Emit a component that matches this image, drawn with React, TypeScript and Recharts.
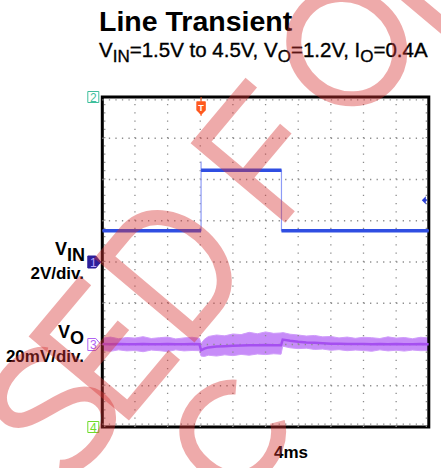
import React from 'react';
import {
  ComposedChart,
  Line,
  Area,
  XAxis,
  YAxis,
  ReferenceLine,
  ReferenceArea,
  ReferenceDot,
} from 'recharts';

// scope screen: 10 x 4ms horizontally, 8 divisions vertically
const timeGrid = [4, 8, 12, 16, 20, 24, 28, 32, 36];
const divGrid = [-3, -2, -1, 0, 1, 2, 3];

// CH1: VIN in volts, 2V/div, ground on the centre line
const vinTime = [0, 12.1, 12.1, 12.1, 21.95, 21.95, 40];
const vinVolts = [1.52, 1.52, 4.87, 4.45, 4.45, 1.52, 1.52];
const vinScale = 2;
const vinOffset = 0;

// CH3: VO ripple in mV, 20mV/div, marker 2 div below centre
const voTime = [
  0, 1, 2, 3, 4, 5, 6, 7, 8, 9, 10, 11, 11.9,
  12.1, 12.5, 13, 14, 15, 16, 17, 18, 19, 20, 21, 21.9,
  22.1, 23, 24, 25, 26, 27, 28, 29, 30, 31, 32, 33, 34, 35, 36, 37, 38, 39, 40,
];
const voMid = [
  0.2, 0.1, 0.2, 0.1, 0.1, 0.2, 0.1, 0.1, 0.2, 0.1, 0.1, 0.2, 0.1,
  -2.8, -2.0, -1.4, -1.0, -0.8, -0.6, -0.5, -0.4, -0.4, -0.3, -0.4, -0.4,
  2.4, 1.8, 1.3, 1.0, 0.8, 0.6, 0.4, 0.4, 0.3, 0.2, 0.2, 0.1, 0.2, 0.1, 0.2, 0.1, 0.1, 0.2, 0.1,
];
const voHigh = [
  3.0, 3.6, 2.8, 3.4, 3.1, 3.8, 2.9, 3.3, 3.6, 2.7, 3.2, 3.5, 3.0,
  0.4, 2.5, 3.9, 4.6, 4.2, 5.1, 4.8, 5.9, 5.2, 6.1, 5.4, 5.6,
  5.8, 5.0, 4.6, 4.1, 4.4, 3.7, 3.9, 3.2, 3.6, 3.0, 3.5, 3.3, 2.9, 3.7, 3.1, 3.4, 2.8, 3.5, 3.2,
];
const voLow = [
  -2.8, -3.3, -2.6, -3.1, -2.9, -3.5, -2.7, -3.0, -3.4, -2.6, -3.1, -2.9, -3.0,
  -5.6, -5.8, -5.2, -5.6, -5.0, -5.4, -4.8, -5.2, -4.6, -4.9, -4.5, -4.7,
  -0.8, -1.6, -2.0, -1.8, -2.4, -2.2, -2.8, -2.5, -3.0, -2.7, -2.9, -3.3, -2.6, -3.1, -2.8, -3.2, -2.7, -3.0, -2.9,
];
const voScale = 20;
const voOffset = -2;

const triggerTime = 12.1;
const triggerLevel = 3; // V on CH1

const W = 441;
const H = 468;
const M = { top: 97, right: 12.2, bottom: 41, left: 102.3 };

const FONT = '"Liberation Sans", Arial, sans-serif';
const GRID = '#8c8c8c';
const PINK = 'rgba(214, 52, 52, 0.42)';

const vinEdges = vinTime.map((t, i) => ({ t, y: vinVolts[i] / vinScale + vinOffset }));

// flat parts are drawn thicker, the fast edges stay thin
const vinFlats: { t: number; y: number | null }[] = [];
for (let i = 0; i < vinTime.length - 1; i++) {
  if (vinTime[i + 1] > vinTime[i]) {
    vinFlats.push({ t: vinTime[i], y: vinVolts[i] / vinScale + vinOffset });
    vinFlats.push({ t: vinTime[i + 1], y: vinVolts[i] / vinScale + vinOffset });
    vinFlats.push({ t: vinTime[i + 1], y: null });
  }
}

const voData = voTime.map((t, i) => ({
  t,
  mid: voMid[i] / voScale + voOffset,
  band: [voLow[i] / voScale + voOffset, voHigh[i] / voScale + voOffset],
}));

const chMarker = (label: string, kind: 'filled' | 'outline' | 'box', color: string, text: string) =>
  (props: any) => {
    const { cx, cy } = props;
    const r = cx - 1.5;
    const l = r - 13;
    const pts =
      kind === 'box'
        ? `${l},${cy - 5.5} ${r - 2},${cy - 5.5} ${r - 2},${cy + 5.5} ${l},${cy + 5.5}`
        : `${l},${cy - 6} ${r - 5},${cy - 6} ${r},${cy} ${r - 5},${cy + 6} ${l},${cy + 6}`;
    return (
      <g>
        <polygon
          points={pts}
          fill={kind === 'filled' ? color : '#fff'}
          stroke={color}
          strokeWidth={1}
        />
        <text
          x={l + 5.5}
          y={cy + 4.5}
          textAnchor="middle"
          fontFamily={FONT}
          fontSize={12}
          fill={text}
        >
          {label}
        </text>
      </g>
    );
  };

const triggerMarker = (props: any) => {
  const { cx, cy } = props;
  return (
    <g>
      <line x1={cx} y1={cy} x2={cx} y2={cy + 19} stroke="#ff5a1f" strokeWidth={1} />
      <path
        d={`M${cx - 4},${cy + 5} h8 v8 l-4,4 l-4,-4 z`}
        fill="#ff5a1f"
        stroke="#ff5a1f"
        strokeLinejoin="round"
        strokeWidth={1.5}
      />
      <text x={cx} y={cy + 13.5} textAnchor="middle" fontFamily={FONT} fontSize={9} fontWeight="bold" fill="#fff">
        T
      </text>
    </g>
  );
};

const levelMarker = (props: any) => {
  const { cx, cy } = props;
  return (
    <g>
      <path d={`M${cx - 7},${cy} l4,-4 v8 z`} fill="#2a3fd6" />
      <line x1={cx - 4} y1={cy} x2={cx - 2} y2={cy} stroke="#2a3fd6" strokeWidth={2} />
    </g>
  );
};

// stamp across the page, single-stroke letters, cap height 116
function Watermark() {
  return (
    <svg
      width={W}
      height={H}
      style={{ position: 'absolute', left: 0, top: 0, pointerEvents: 'none' }}
    >
      <g
        transform="translate(290 217) rotate(-50)"
        fill="none"
        stroke={PINK}
        strokeWidth={15}
        strokeLinejoin="miter"
      >
        {/* S */}
        <path d="M-262,-98 C-272,-118 -330,-124 -334,-90 C-338,-58 -262,-66 -262,-28 C-262,6 -325,6 -340,-16" />
        {/* E */}
        <path d="M-180,-116 H-252 V0 H-180 M-252,-58 H-190" />
        {/* D */}
        <path d="M-150,0 V-116 H-118 C-56,-116 -56,0 -118,0 Z" />
        {/* F */}
        <path d="M78,-116 H0 V0 M0,-60 H65" />
        {/* O */}
        <ellipse cx={167} cy={-66} rx={50} ry={55} />
        {/* R */}
        <path d="M245,0 V-116 H285 C325,-116 325,-58 285,-58 H245 M280,-58 L320,0" />
        {/* second line */}
        <path d="M-165,68 C-185,40 -245,40 -245,95 C-245,150 -185,150 -165,122" />
      </g>
    </svg>
  );
}

function Labels() {
  return (
    <svg width={W} height={H} style={{ position: 'absolute', left: 0, top: 0 }}>
      <text x={99} y={31} fontFamily={FONT} fontSize={28.5} fontWeight="bold" fill="#000">
        Line Transient
      </text>
      <text x={99} y={56.5} fontFamily={FONT} fontSize={20.5} fill="#000" stroke="#000" strokeWidth={0.35}>
        V<tspan dy={5.5} fontSize={17}>IN</tspan>
        <tspan dy={-5.5}>=1.5V to 4.5V, V</tspan>
        <tspan dy={5.5} fontSize={17}>O</tspan>
        <tspan dy={-5.5}>=1.2V, I</tspan>
        <tspan dy={5.5} fontSize={17}>O</tspan>
        <tspan dy={-5.5}>=0.4A</tspan>
      </text>
      <g fontFamily={FONT} fontWeight="bold" fontSize={18} fill="#000" textAnchor="end">
        <text x={85} y={255}>
          V<tspan dy={6}>IN</tspan>
        </text>
        <text x={84} y={279} fontSize={17}>2V/div.</text>
        <text x={84} y={338}>
          V<tspan dy={6}>O</tspan>
        </text>
        <text x={84} y={361.5} fontSize={17}>20mV/div.</text>
      </g>
      <text x={291} y={458} textAnchor="middle" fontFamily={FONT} fontWeight="bold" fontSize={17} fill="#000">
        4ms
      </text>
    </svg>
  );
}

export default function App() {
  return (
    <div style={{ position: 'absolute', left: 0, top: 0, width: W, height: H, background: '#fff' }}>
      <Labels />
      <div style={{ position: 'absolute', left: 0, top: 0 }}>
        <ComposedChart width={W} height={H} margin={M}>
          <XAxis dataKey="t" type="number" domain={[0, 40]} hide allowDataOverflow />
          <YAxis type="number" domain={[-4, 4]} hide allowDataOverflow />

          {timeGrid.map((t) => (
            <ReferenceLine key={`vx${t}`} x={t} stroke={GRID} strokeWidth={1.3} strokeDasharray="1.3 6.95" />
          ))}
          {divGrid.map((d) => (
            <ReferenceLine key={`hy${d}`} y={d} stroke={GRID} strokeWidth={1.3} strokeDasharray="1.3 5.23" />
          ))}
          <ReferenceLine y={-3.93} stroke={GRID} strokeWidth={1.3} strokeDasharray="1.3 5.23" />
          <ReferenceLine y={3.93} stroke={GRID} strokeWidth={1.3} strokeDasharray="1.3 5.23" />
          <ReferenceLine x={0.3} stroke={GRID} strokeWidth={1.3} strokeDasharray="1.3 6.95" />
          <ReferenceLine x={39.7} stroke={GRID} strokeWidth={1.3} strokeDasharray="1.3 6.95" />

          <Area
            data={voData}
            dataKey="band"
            type="linear"
            stroke="#cf9cfa"
            strokeWidth={1}
            fill="#bd78f7"
            fillOpacity={0.85}
            isAnimationActive={false}
          />
          <Line
            data={voData}
            dataKey="mid"
            type="linear"
            stroke="#a54ff0"
            strokeWidth={2.5}
            dot={false}
            isAnimationActive={false}
          />

          <Line
            data={vinEdges}
            dataKey="y"
            type="linear"
            stroke="#8d9bf6"
            strokeWidth={1.2}
            dot={false}
            isAnimationActive={false}
          />
          <Line
            data={vinFlats}
            dataKey="y"
            type="linear"
            stroke="#2f4ee2"
            strokeWidth={3.5}
            dot={false}
            connectNulls={false}
            isAnimationActive={false}
          />

          <ReferenceArea
            x1={0}
            x2={40}
            y1={-4}
            y2={4}
            fill="none"
            stroke="#000"
            strokeWidth={3}
            ifOverflow="visible"
          />

          <ReferenceDot x={0} y={4} r={0} ifOverflow="visible" shape={chMarker('2', 'box', '#3fbf9c', '#3fbf9c')} />
          <ReferenceDot x={0} y={vinOffset} r={0} ifOverflow="visible" shape={chMarker('1', 'filled', '#2c1f9a', '#b9a8ff')} />
          <ReferenceDot x={0} y={voOffset} r={0} ifOverflow="visible" shape={chMarker('3', 'outline', '#b064f2', '#b064f2')} />
          <ReferenceDot x={0} y={-4} r={0} ifOverflow="visible" shape={chMarker('4', 'box', '#6fdc2a', '#6fdc2a')} />
          <ReferenceDot x={triggerTime} y={4} r={0} ifOverflow="visible" shape={triggerMarker} />
          <ReferenceDot x={40} y={triggerLevel / vinScale + vinOffset} r={0} ifOverflow="visible" shape={levelMarker} />
        </ComposedChart>
      </div>
      <Watermark />
    </div>
  );
}
